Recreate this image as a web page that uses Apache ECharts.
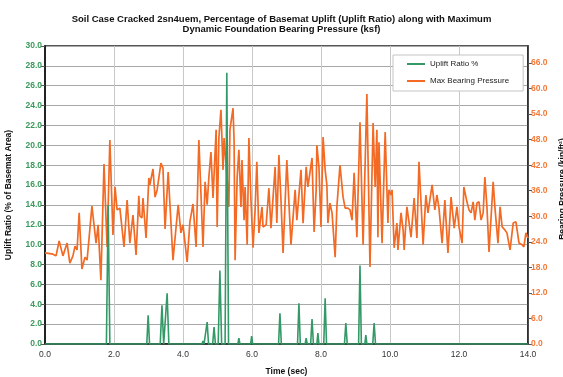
<!DOCTYPE html>
<html>
<head>
<meta charset="utf-8">
<script src="https://cdn.jsdelivr.net/npm/echarts@6/dist/echarts.min.js"></script>
<style>
html,body{margin:0;padding:0;background:#fff;}
#chart{width:563px;height:377px;}
</style>
</head>
<body>
<div id="chart"></div>
<script>
// Max bearing pressure (kip/ft^2) vs time (sec)
const pressureTime = [0.00,0.23,0.32,0.41,0.52,0.64,0.72,0.81,0.87,0.93,0.99,1.07,1.16,1.22,1.36,1.48,1.54,1.62,1.71,1.80,1.88,1.97,2.03,2.09,2.17,2.29,2.38,2.46,2.55,2.64,2.72,2.75,2.81,2.84,2.93,3.01,3.04,3.13,3.19,3.25,3.36,3.42,3.48,3.57,3.71,3.86,3.94,4.00,4.12,4.20,4.29,4.38,4.46,4.58,4.64,4.70,4.75,4.81,4.87,4.96,4.99,5.04,5.10,5.16,5.19,5.28,5.33,5.36,5.45,5.48,5.51,5.57,5.62,5.68,5.71,5.77,5.80,5.86,5.91,5.97,6.03,6.09,6.14,6.20,6.29,6.32,6.41,6.49,6.55,6.67,6.72,6.78,6.84,6.90,7.01,7.13,7.25,7.30,7.42,7.48,7.57,7.62,7.74,7.80,7.86,7.88,7.94,8.00,8.06,8.12,8.17,8.20,8.26,8.32,8.41,8.46,8.55,8.64,8.70,8.78,8.84,8.90,8.96,9.04,9.13,9.22,9.33,9.42,9.51,9.57,9.62,9.65,9.68,9.77,9.86,9.94,9.97,10.03,10.06,10.12,10.20,10.23,10.32,10.38,10.41,10.49,10.61,10.70,10.78,10.84,10.96,11.04,11.10,11.22,11.30,11.36,11.42,11.51,11.59,11.68,11.77,11.86,11.94,12.00,12.09,12.14,12.23,12.29,12.35,12.41,12.46,12.52,12.58,12.64,12.70,12.75,12.81,12.87,12.99,13.04,13.13,13.19,13.25,13.33,13.39,13.48,13.57,13.65,13.74,13.83,13.88,13.94,14.00];
const pressureValue = [21.4,21.1,20.7,24.2,20.7,23.7,19.0,20.7,23.0,22.1,30.8,17.6,20.4,19.7,32.4,23.7,28.0,15.0,42.3,22.8,47.9,25.6,36.9,31.5,31.9,22.8,33.8,23.7,30.3,20.9,34.8,30.1,29.6,34.3,24.9,39.0,37.4,41.1,34.5,36.2,42.5,41.3,27.0,40.4,19.7,32.7,26.1,28.0,19.3,28.7,32.9,22.8,47.9,22.8,38.1,32.7,39.2,45.1,34.3,50.3,27.5,48.4,55.0,40.9,48.4,38.5,32.2,50.3,55.4,47.9,19.7,39.2,45.6,32.2,43.2,29.1,36.9,23.3,48.4,33.8,22.6,31.5,42.8,26.1,32.2,27.5,28.0,36.6,27.2,41.6,28.4,44.4,33.8,21.4,43.2,23.3,36.2,29.1,40.9,28.4,41.6,36.9,43.7,26.3,36.2,46.7,41.6,27.5,48.6,40.9,37.4,28.4,33.1,30.8,20.4,32.2,42.0,34.5,31.9,31.9,31.5,29.1,40.2,25.1,52.1,23.3,58.7,18.1,51.9,36.9,50.3,25.1,47.4,23.7,49.8,28.4,36.2,35.0,36.2,22.6,28.4,22.1,30.8,26.8,22.1,32.2,25.1,34.3,24.9,42.8,23.3,35.0,30.8,37.4,31.5,35.0,31.9,23.7,33.8,21.4,34.5,27.2,32.2,27.5,23.7,36.9,33.4,31.5,30.8,33.4,29.1,33.1,33.4,29.1,30.8,39.2,32.2,21.6,38.1,32.2,23.7,32.2,27.5,26.8,26.1,22.1,28.4,28.7,23.7,23.3,22.8,26.1,24.9];

// Uplift ratio (% of basemat area) vs time (sec)
const upliftTime = [0,1.78,1.83,1.88,2.80,2.83,2.86,2.95,2.99,3.03,3.34,3.39,3.44,3.49,3.54,3.59,4.43,4.46,4.49,4.55,4.58,4.61,4.66,4.70,4.74,4.86,4.90,4.94,5.02,5.07,5.12,5.22,5.27,5.32,5.59,5.62,5.65,5.96,5.99,6.02,6.61,6.64,6.67,6.77,6.81,6.85,7.32,7.36,7.40,7.54,7.57,7.60,7.70,7.74,7.78,7.88,7.91,7.94,8.08,8.12,8.16,8.68,8.72,8.76,9.09,9.13,9.17,9.27,9.30,9.33,9.50,9.54,9.58,14];
const upliftValue = [0,0,14.0,0,0,0.2,0,0,2.9,0,0,3.9,0,0,5.1,0,0,0.2,0,0,0.3,0,0,2.2,0,0,1.7,0,0,7.4,0,0,27.3,0,0,0.6,0,0,0.8,0,0,0.2,0,0,3.1,0,0,4.1,0,0,0.6,0,0,2.5,0,0,1.1,0,0,4.6,0,0,2.1,0,0,7.9,0,0,0.9,0,0,2.1,0,0];

const titleText = 'Soil Case Cracked 2sn4uem, Percentage of Basemat Uplift (Uplift Ratio) along with Maximum\nDynamic Foundation Bearing Pressure (ksf)';
const seriesNames = ['Uplift Ratio %', 'Max Bearing Pressure'];

const GREEN = '#339966';
const ORANGE = '#f26a24';
const FONT = 'Liberation Sans, Arial, sans-serif';

const chart = echarts.init(document.getElementById('chart'), null, {renderer: 'canvas'});
chart.setOption({
  animation: false,
  backgroundColor: '#fff',
  textStyle: {fontFamily: FONT},
  title: {
    text: titleText,
    left: 'center',
    top: 9,
    textStyle: {fontFamily: FONT, fontSize: 9.5, fontWeight: 'bold', color: '#111', lineHeight: 10.5}
  },
  legend: {
    data: seriesNames,
    orient: 'vertical',
    left: 393,
    top: 55,
    icon: 'rect',
    itemWidth: 18,
    itemHeight: 2,
    itemGap: 9,
    padding: [5, 14, 6, 14],
    backgroundColor: '#fff',
    borderColor: '#c4c4c4',
    borderWidth: 1,
    textStyle: {fontFamily: FONT, fontSize: 8, color: '#222'}
  },
  grid: {
    left: 45, right: 35, top: 46, bottom: 33,
    containLabel: false, outerBoundsMode: 'none',
    show: true, borderColor: '#222', borderWidth: 1.5, backgroundColor: '#fff'
  },
  xAxis: {
    type: 'value', min: 0, max: 14, interval: 2,
    name: 'Time (sec)', nameLocation: 'middle', nameGap: 23,
    nameTextStyle: {fontFamily: FONT, fontSize: 8.5, fontWeight: 'bold', color: '#111'},
    axisLine: {show: true, lineStyle: {color: '#222', width: 1.5}},
    axisTick: {show: false},
    axisLabel: {fontFamily: FONT, fontSize: 8.5, color: '#333', margin: 6, formatter: v => v.toFixed(1)},
    splitLine: {show: true, lineStyle: {color: '#c8c8c8', width: 1}}
  },
  yAxis: [
    {
      type: 'value', min: 0, max: 30, interval: 2, position: 'left',
      name: 'Uplift Ratio (% of Basemat Area)', nameLocation: 'middle', nameGap: 32,
      nameTextStyle: {fontFamily: FONT, fontSize: 8.5, fontWeight: 'bold', color: '#111'},
      axisLine: {show: true, lineStyle: {color: '#222', width: 2}},
      axisTick: {show: true, inside: false, length: 4, lineStyle: {color: '#555'}},
      axisLabel: {fontFamily: FONT, fontSize: 8.5, fontWeight: 'bold', color: '#3a9a5c', margin: 3, formatter: v => v.toFixed(1)},
      splitLine: {show: true, lineStyle: {color: '#a8a8a8', width: 1}}
    },
    {
      type: 'value', min: 0, max: 70, interval: 6, position: 'right',
      name: 'Bearing Pressure (kip/ft²)', nameLocation: 'middle', nameGap: 22, nameRotate: 90,
      nameTextStyle: {fontFamily: FONT, fontSize: 8.5, fontWeight: 'bold', color: '#111', padding: [0, 0, 0, 12]},
      axisLine: {show: true, lineStyle: {color: '#222', width: 1.5}},
      axisTick: {show: true, inside: false, length: 4, lineStyle: {color: '#555'}},
      axisLabel: {fontFamily: FONT, fontSize: 8.5, fontWeight: 'bold', color: '#f47a3a', margin: 3, showMaxLabel: false,
        formatter: v => (v > 66 ? '' : v.toFixed(1))},
      splitLine: {show: false}
    }
  ],
  series: [
    {
      name: seriesNames[1], type: 'line', yAxisIndex: 1, z: 2,
      data: pressureTime.map((t, i) => [t, pressureValue[i]]),
      showSymbol: false, symbol: 'none',
      lineStyle: {color: ORANGE, width: 1.7}, itemStyle: {color: ORANGE}
    },
    {
      name: seriesNames[0], type: 'line', yAxisIndex: 0, z: 3,
      data: upliftTime.map((t, i) => [t, upliftValue[i]]),
      showSymbol: false, symbol: 'none',
      lineStyle: {color: GREEN, width: 1.6}, itemStyle: {color: GREEN}
    }
  ]
});
</script>
</body>
</html>
